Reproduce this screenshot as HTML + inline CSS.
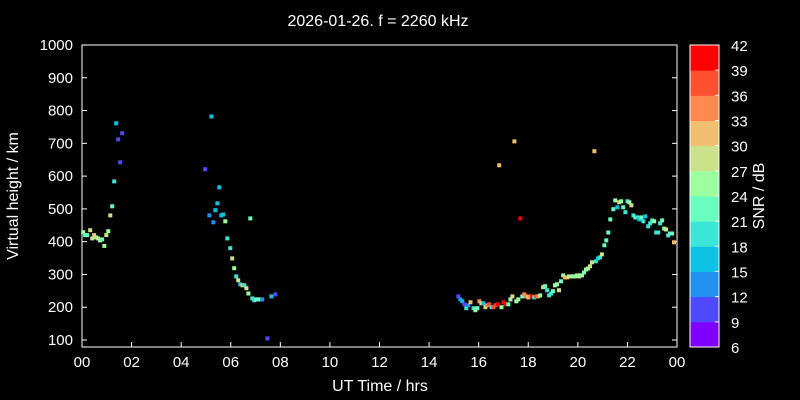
<!DOCTYPE html>
<html><head><meta charset="utf-8"><style>
body{margin:0;background:#000;width:800px;height:400px;overflow:hidden}
svg{display:block}
text{font-family:"Liberation Sans",sans-serif;fill:#fff}
</style></head><body>
<svg id="chart" width="800" height="400" viewBox="0 0 800 400">
<rect width="800" height="400" fill="#000"/>
<text x="378" y="26" font-size="16" text-anchor="middle">2026-01-26. f = 2260 kHz</text>
<g id="axes"></g>
<g id="marks"></g>
<g id="cbar"></g>
<text x="380" y="391" font-size="16" text-anchor="middle">UT Time / hrs</text>
<text transform="translate(18,196) rotate(-90)" font-size="16" text-anchor="middle">Virtual height / km</text>
<text transform="translate(764,196) rotate(-90)" font-size="16" text-anchor="middle">SNR / dB</text>
</svg>
<script>
const hours=[0.05,0.13,0.21,0.33,0.41,0.49,0.57,0.65,0.73,0.81,0.9,0.98,1.06,1.14,1.22,1.3,1.38,1.46,1.54,1.62,
5.22,4.97,5.54,5.46,5.38,5.14,5.30,5.62,5.70,5.78,6.79,5.86,5.98,6.06,6.14,6.22,6.30,6.38,6.47,6.55,6.63,6.71,6.87,6.95,7.03,7.11,7.19,7.27,7.64,7.80,7.48,
17.44,16.83,20.67,17.68,
15.18,15.26,15.34,15.42,15.50,15.58,15.67,15.79,15.87,15.95,16.03,16.11,16.19,16.27,16.35,16.43,16.52,16.60,16.68,16.76,16.92,17.00,17.08,17.2,17.28,17.36,17.52,17.6,17.76,17.84,17.92,18.0,18.08,18.16,18.24,18.32,18.4,18.48,18.6,18.68,18.76,18.84,18.92,19.0,19.08,19.16,19.24,19.32,19.41,19.49,19.57,19.65,19.73,19.81,19.89,19.97,20.05,20.09,20.17,20.25,20.33,20.41,20.49,20.57,20.73,20.81,20.89,20.97,21.07,21.15,21.23,21.31,21.43,21.51,21.59,21.67,21.75,21.83,21.92,22.0,22.08,22.16,22.24,22.32,22.4,22.48,22.56,22.64,22.72,22.84,22.92,23.0,23.08,23.16,23.24,23.32,23.4,23.48,23.56,23.64,23.72,23.8,23.88];
const heights=[429,420,420,435,410,420,413,410,404,407,387,420,432,480,508,584,761,712,642,731,
782,621,566,517,496,480,459,480,483,462,471,410,380,349,319,294,282,270,267,267,258,242,227,221,224,224,224,224,233,239,105,
706,633,676,471,
233,224,218,209,197,206,215,197,191,197,218,212,212,200,206,209,200,200,206,209,200,215,209,209,224,233,218,224,233,239,233,230,233,233,230,233,233,236,261,264,252,236,242,249,267,270,252,279,297,291,291,294,294,294,294,297,294,297,297,306,315,318,325,337,340,349,352,361,389,404,428,468,499,526,505,520,523,505,490,523,520,511,480,474,474,468,474,462,477,447,456,465,462,428,428,456,465,440,437,419,425,425,398];
const snr=[24,22,22,27,27,30,25,27,24,22,24,27,24,27,22,20,16,10,10,10,
16,10,16,16,16,13,13,16,16,25,22,20,20,27,25,20,27,15,30,20,27,24,20,20,22,22,22,13,15,10,10,
30,30,30,42,
10,12,16,10,20,12,30,20,24,22,33,27,16,27,33,36,20,36,36,39,24,42,39,22,24,27,24,24,22,33,33,30,33,39,18,36,33,24,27,22,20,20,20,22,24,24,27,22,24,30,30,24,27,24,24,24,27,24,24,22,24,24,27,27,20,16,20,27,22,22,22,22,22,25,16,27,25,22,20,20,25,27,20,22,20,16,22,20,16,20,20,20,25,20,20,20,22,22,27,20,22,22,30];
const xTicks=["00","02","04","06","08","10","12","14","16","18","20","22","00"];
const yTicks=[100,200,300,400,500,600,700,800,900,1000];
const cbTicks=[6,9,12,15,18,21,24,27,30,33,36,39,42];
const cbColors=["#8000ff","#5048fc","#2290f2","#0ec2e6","#3ce6d6","#6affc0","#9cffa0","#cce28a","#f0c070","#ff8a50","#ff5030","#ff0000"];
const NS="http://www.w3.org/2000/svg";
const X0=82,X1=677,YT=45,YB=347;
const xs=h=>X0+(X1-X0)*h/24;
const ys=v=>340-(v-100)*(340-45)/900;
function mk(tag,attrs,parent){const e=document.createElementNS(NS,tag);for(const k in attrs)e.setAttribute(k,attrs[k]);parent.appendChild(e);return e;}
const axes=document.getElementById('axes');
let fr=mk('rect',{x:X0,y:YT,width:X1-X0,height:YB-YT,fill:'none',stroke:'#fff','stroke-width':1},axes);


xTicks.forEach((t,i)=>{const x=xs(i*2);
 let l=mk('line',{x1:x,x2:x,y1:YB,y2:YB-5,stroke:'#fff'},axes);
 
 
 let tx=mk('text',{x:x,y:YB+20,'font-size':15,'text-anchor':'middle'},axes);tx.textContent=t;
 
 });
yTicks.forEach(v=>{const y=ys(v);
 let l=mk('line',{x1:X0,x2:X0+5,y1:y,y2:y,stroke:'#fff'},axes);
 
 
 let l2=mk('line',{x1:X1,x2:X1-5,y1:y,y2:y,stroke:'#fff'},axes);
 
 
 let tx=mk('text',{x:X0-9,y:y+5,'font-size':15,'text-anchor':'end'},axes);tx.textContent=v;
 
 });
function col(v){let i=Math.floor((v-6)/3);i=Math.max(0,Math.min(11,i));return cbColors[i];}
const marks=document.getElementById('marks');
hours.forEach((h,i)=>{const r=mk('rect',{x:(xs(h)-2).toFixed(1),y:(ys(heights[i])-2).toFixed(1),width:4,height:4,fill:col(snr[i])},marks);
 
 });
const cb=document.getElementById('cbar');
const CX=690,CW=29,CT=45,CB=347,bh=(CB-CT)/12;
cbColors.forEach((c,i)=>{const r=mk('rect',{x:CX,y:CB-(i+1)*bh,width:CW,height:bh+0.5,fill:c},cb);
 
 });
let cf=mk('rect',{x:CX,y:CT,width:CW,height:CB-CT,fill:'none',stroke:'#fff'},cb);


cbTicks.forEach((t,i)=>{const y=CB-i*bh;
 let l=mk('line',{x1:CX+CW-4,x2:CX+CW,y1:y,y2:y,stroke:'#fff'},cb);
 
 
 let tx=mk('text',{x:731,y:y+6,'font-size':15},cb);tx.textContent=t;
 
 });
</script>
</body></html>
